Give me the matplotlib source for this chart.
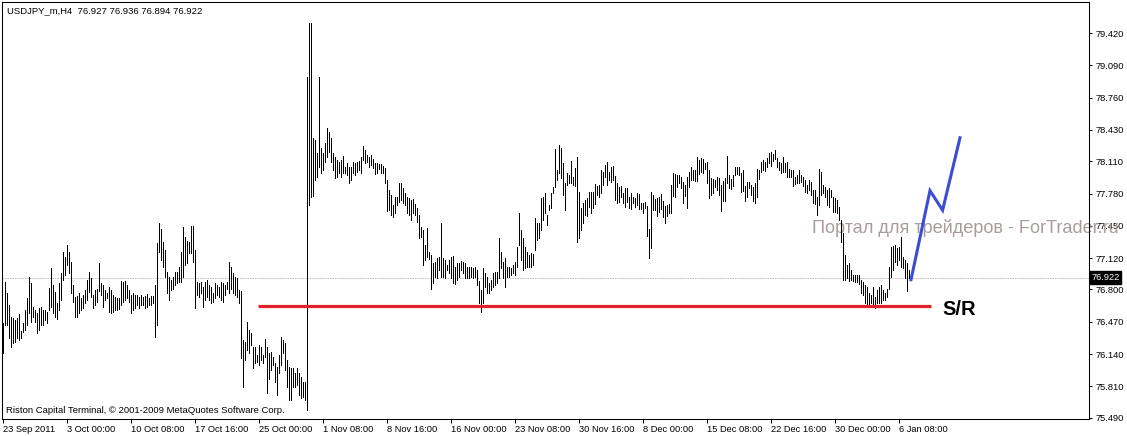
import numpy as np
import matplotlib
matplotlib.use("Agg")
import matplotlib.pyplot as plt
from matplotlib.transforms import blended_transform_factory

# ---------------- data (USDJPY_m, H4) ----------------
highs = [
    76.46, 76.88, 76.76, 76.64, 76.52, 76.51, 76.49, 76.51, 76.55, 76.38,
    76.46, 76.59, 76.71, 76.93, 76.87, 76.62, 76.59, 76.56, 76.61, 76.62,
    76.59, 76.59, 76.57, 76.82, 77.02, 76.85, 76.77, 76.66, 76.87, 76.97,
    77.18, 77.13, 77.25, 77.18, 77.08, 76.85, 76.72, 76.73, 76.76, 76.71,
    76.74, 76.79, 76.90, 76.98, 76.92, 76.74, 76.79, 76.81, 77.07, 76.87,
    76.85, 76.79, 76.76, 76.83, 76.79, 76.74, 76.72, 76.71, 76.71, 76.89,
    76.88, 76.89, 76.85, 76.79, 76.74, 76.76, 76.74, 76.74, 76.72, 76.74,
    76.72, 76.73, 76.75, 76.71, 76.73, 76.73, 76.85, 77.27, 77.48, 77.42,
    77.29, 77.20, 76.98, 76.93, 76.90, 76.93, 76.98, 76.98, 77.03, 77.18,
    77.44, 77.34, 77.30, 77.29, 77.45, 77.45, 77.20, 76.88, 76.87, 76.88,
    76.83, 76.88, 76.90, 76.85, 76.83, 76.76, 76.87, 76.85, 76.83, 76.88,
    76.87, 76.85, 76.88, 77.08, 77.03, 76.97, 76.93, 76.92, 76.79, 76.78,
    76.28, 76.26, 76.47, 76.39, 76.36, 76.21, 76.21, 76.13, 76.23, 76.21,
    76.13, 76.29, 76.21, 76.15, 76.16, 76.11, 76.05, 76.01, 76.13, 76.31,
    76.28, 76.25, 76.08, 76.01, 76.00, 76.00, 75.95, 76.00, 75.95, 75.91,
    75.85, 75.85, 78.97, 79.52, 79.52, 78.35, 78.33, 78.19, 78.97, 78.25,
    78.19, 78.30, 78.45, 78.41, 78.35, 78.19, 78.15, 78.12, 78.10, 78.12,
    78.16, 78.05, 78.09, 78.05, 78.05, 78.10, 78.09, 78.10, 78.11, 78.15,
    78.27, 78.22, 78.17, 78.15, 78.17, 78.13, 78.09, 78.09, 78.08, 78.08,
    78.06, 78.04, 77.92, 77.82, 77.77, 77.66, 77.74, 77.74, 77.89, 77.89,
    77.84, 77.79, 77.74, 77.73, 77.71, 77.72, 77.67, 77.63, 77.56, 77.44,
    77.41, 77.25, 77.43, 77.18, 77.15, 77.07, 77.08, 77.12, 77.13, 77.48,
    77.12, 77.10, 77.05, 77.10, 77.13, 77.14, 77.03, 77.07, 77.07, 77.09,
    77.08, 77.07, 77.03, 77.03, 77.03, 77.02, 77.03, 77.00, 76.89, 76.79,
    77.02, 76.97, 76.93, 76.87, 76.90, 76.97, 76.98, 76.98, 77.33, 77.18,
    77.08, 77.12, 77.03, 77.03, 77.02, 77.05, 77.08, 77.23, 77.58, 77.41,
    77.33, 77.23, 77.18, 77.15, 77.17, 77.16, 77.53, 77.48, 77.48, 77.73,
    77.74, 77.79, 77.56, 77.66, 77.79, 77.85, 78.24, 78.02, 78.28, 78.25,
    78.09, 77.89, 77.99, 77.97, 78.11, 77.95, 78.04, 78.15, 77.80, 77.63,
    77.68, 77.71, 77.73, 77.80, 77.80, 77.80, 77.88, 77.86, 77.87, 78.02,
    78.00, 78.07, 78.10, 78.00, 78.05, 78.06, 77.96, 77.89, 77.85, 77.86,
    77.79, 77.84, 77.84, 77.74, 77.79, 77.75, 77.73, 77.79, 77.78, 77.68,
    77.68, 77.69, 77.65, 77.42, 77.80, 77.77, 77.72, 77.73, 77.74, 77.78,
    77.70, 77.65, 77.66, 77.67, 77.87, 77.99, 77.98, 77.97, 77.97, 77.95,
    77.90, 77.87, 77.95, 78.00, 78.05, 78.02, 78.02, 78.15, 78.12, 78.14,
    78.13, 78.09, 78.10, 78.02, 77.94, 77.93, 77.92, 77.95, 77.94, 77.87,
    77.91, 77.94, 78.16, 77.97, 77.93, 77.97, 78.05, 78.05, 78.05, 77.99,
    78.02, 77.86, 77.90, 77.90, 77.87, 77.85, 77.89, 78.03, 78.02, 78.10,
    78.12, 78.10, 78.14, 78.19, 78.20, 78.18, 78.22, 78.14, 78.10, 78.09,
    78.15, 78.09, 78.10, 78.03, 78.02, 78.02, 77.95, 77.97, 78.02, 77.97,
    77.95, 77.92, 77.87, 77.92, 77.90, 77.82, 77.82, 77.74, 78.03, 78.00,
    77.87, 77.85, 77.82, 77.84, 77.82, 77.74, 77.73, 77.71, 77.64, 77.51,
    77.38, 77.15, 77.05, 77.07, 77.00, 76.95, 76.95, 76.95, 76.95, 76.90,
    76.88, 76.85, 76.83, 76.76, 76.74, 76.83, 76.72, 76.79, 76.83, 76.85,
    76.79, 76.76, 76.81, 77.03, 77.23, 77.24, 77.25, 77.22, 77.23, 77.34,
    77.13, 77.10, 77.07, 77.00, 76.936,
]
lows = [
    76.15, 76.44, 76.44, 76.30, 76.21, 76.25, 76.26, 76.30, 76.28, 76.30,
    76.37, 76.39, 76.44, 76.56, 76.47, 76.52, 76.47, 76.36, 76.39, 76.44,
    76.44, 76.49, 76.46, 76.59, 76.62, 76.56, 76.52, 76.50, 76.59, 76.69,
    76.90, 76.95, 77.05, 76.97, 76.76, 76.67, 76.52, 76.52, 76.56, 76.59,
    76.61, 76.66, 76.69, 76.77, 76.72, 76.61, 76.64, 76.67, 76.78, 76.74,
    76.62, 76.69, 76.71, 76.57, 76.56, 76.57, 76.59, 76.59, 76.60, 76.64,
    76.67, 76.69, 76.71, 76.67, 76.56, 76.59, 76.61, 76.64, 76.61, 76.64,
    76.64, 76.61, 76.62, 76.64, 76.64, 76.66, 76.31, 76.44, 77.18, 77.10,
    77.03, 76.93, 76.76, 76.69, 76.79, 76.81, 76.85, 76.87, 76.88, 76.88,
    76.93, 77.05, 77.07, 77.17, 77.17, 77.08, 76.61, 76.74, 76.72, 76.76,
    76.62, 76.69, 76.72, 76.69, 76.66, 76.67, 76.71, 76.74, 76.72, 76.69,
    76.67, 76.74, 76.80, 76.76, 76.81, 76.76, 76.74, 76.72, 76.66, 76.10,
    75.80, 76.08, 76.18, 76.15, 76.23, 76.00, 76.05, 76.06, 76.03, 76.08,
    76.05, 76.11, 75.74, 75.89, 75.98, 76.03, 75.85, 75.72, 75.95, 76.03,
    76.15, 75.98, 75.80, 75.67, 75.67, 75.80, 75.80, 75.82, 75.72, 75.69,
    75.70, 75.67, 75.57, 77.66, 77.74, 77.76, 77.92, 77.95, 78.05, 77.99,
    78.02, 78.10, 78.15, 78.20, 78.10, 78.02, 77.94, 77.95, 77.99, 77.95,
    77.99, 77.99, 77.97, 77.89, 77.92, 77.99, 77.97, 78.00, 78.02, 77.99,
    78.12, 78.09, 78.10, 78.05, 78.07, 78.04, 77.98, 77.99, 78.03, 77.99,
    77.99, 77.89, 77.60, 77.61, 77.56, 77.54, 77.58, 77.66, 77.69, 77.71,
    77.68, 77.66, 77.58, 77.56, 77.51, 77.58, 77.56, 77.49, 77.33, 77.34,
    77.05, 77.10, 77.13, 77.11, 76.81, 76.87, 76.93, 76.92, 77.00, 76.93,
    76.93, 76.92, 77.00, 76.97, 76.92, 76.87, 76.86, 76.90, 76.93, 77.00,
    76.97, 76.92, 76.92, 76.92, 76.93, 76.92, 76.93, 76.85, 76.66, 76.57,
    76.66, 76.83, 76.76, 76.76, 76.79, 76.83, 76.85, 76.87, 76.92, 77.02,
    76.92, 76.83, 76.93, 76.93, 76.95, 76.97, 76.95, 77.03, 77.25, 77.10,
    77.00, 77.02, 77.03, 77.03, 77.03, 77.05, 77.20, 77.31, 77.33, 77.41,
    77.51, 77.58, 77.46, 77.61, 77.63, 77.79, 77.85, 77.92, 77.99, 77.94,
    77.77, 77.61, 77.87, 77.89, 77.89, 77.87, 77.86, 77.29, 77.33, 77.41,
    77.48, 77.56, 77.55, 77.64, 77.58, 77.63, 77.67, 77.77, 77.75, 77.79,
    77.87, 77.95, 77.87, 77.92, 77.90, 77.92, 77.71, 77.68, 77.69, 77.75,
    77.68, 77.64, 77.69, 77.63, 77.62, 77.68, 77.64, 77.66, 77.62, 77.62,
    77.58, 77.63, 77.35, 77.12, 77.22, 77.61, 77.61, 77.55, 77.59, 77.62,
    77.54, 77.48, 77.55, 77.58, 77.58, 77.76, 77.74, 77.85, 77.89, 77.84,
    77.68, 77.76, 77.63, 77.85, 77.92, 77.92, 77.91, 77.91, 77.98, 78.00,
    77.99, 78.03, 77.89, 77.73, 77.77, 77.79, 77.85, 77.82, 77.77, 77.60,
    77.70, 77.70, 77.89, 77.84, 77.83, 77.86, 77.97, 77.98, 77.97, 77.80,
    77.81, 77.70, 77.75, 77.84, 77.77, 77.70, 77.68, 77.75, 77.93, 78.00,
    78.02, 78.01, 78.05, 78.09, 78.06, 78.11, 78.13, 78.05, 78.02, 77.99,
    78.00, 78.00, 77.95, 77.95, 77.95, 77.86, 77.88, 77.89, 77.89, 77.90,
    77.86, 77.80, 77.79, 77.82, 77.77, 77.68, 77.67, 77.56, 77.66, 77.77,
    77.79, 77.75, 77.66, 77.64, 77.75, 77.59, 77.59, 77.58, 77.51, 77.29,
    76.90, 76.90, 76.92, 76.89, 76.90, 76.89, 76.88, 76.88, 76.86, 76.76,
    76.74, 76.66, 76.64, 76.62, 76.66, 76.62, 76.61, 76.66, 76.66, 76.66,
    76.69, 76.69, 76.72, 76.80, 76.93, 77.00, 77.08, 77.05, 77.10, 77.03,
    77.02, 76.92, 76.78, 76.92, 76.894,
]
assert len(highs) == len(lows)

date_labels = ["23 Sep 2011", "3 Oct 00:00", "10 Oct 08:00", "17 Oct 16:00",
               "25 Oct 00:00", "1 Nov 08:00", "8 Nov 16:00", "16 Nov 00:00",
               "23 Nov 08:00", "30 Nov 16:00", "8 Dec 00:00", "15 Dec 08:00",
               "22 Dec 16:00", "30 Dec 00:00", "6 Jan 08:00"]
date_label_bars = [0, 32, 64, 96, 128, 160, 192, 224, 256, 288, 320, 352, 384, 416, 448]

price_ticks = [79.420, 79.090, 78.760, 78.430, 78.110, 77.780, 77.450,
               77.120, 76.800, 76.470, 76.140, 75.810, 75.490]

bid_price = 76.922
title_text = "USDJPY_m,H4  76.927 76.936 76.894 76.922"

sr_level = 76.63
sr_start_bar, sr_end_bar = 127.5, 464.0

forecast_bars = [454, 463.5, 469.8, 478.5]
forecast_prices = [76.90, 77.81, 77.61, 78.35]

# ---------------- figure ----------------
W, H = 1127, 436
fig = plt.figure(figsize=(W / 100, H / 100), dpi=100)
fig.patch.set_facecolor("white")
ax = fig.add_axes([2 / W, 17 / H, 1087 / W, 417 / H])
ax.set_facecolor("white")

FONT = "Liberation Sans"
FS = 6.7

bars = np.arange(len(highs))
ax.set_xlim(-0.5, 543.0)
ax.set_ylim(75.477, 79.737)

# current bid line
ax.axhline(bid_price, color="#C4BCC4", lw=0.72, ls=(0, (1.5, 1)), zorder=1)

# OHLC bars (only vertical ranges are visible at this zoom)
ax.vlines(bars, lows, highs, colors="black", linewidth=0.55,
          antialiased=False, zorder=3)

# S/R line
ax.hlines(sr_level, sr_start_bar, sr_end_bar, colors="#E3232B", lw=2.3, zorder=4)
ax.text(469.8, 76.60, "S/R", fontsize=14.5, fontweight="bold",
        family=FONT, color="black", ha="left", va="center", zorder=5)

# forecast line
ax.plot(forecast_bars, forecast_prices, color="#3B4ED3", lw=2.2,
        solid_joinstyle="miter", zorder=5)

# watermark
ax.text(404.3, 77.374, "Портал для трейдеров - ForTrader.ru", fontsize=13.1,
        family=FONT, color="#AA9C9C", ha="left", va="baseline", zorder=2,
        clip_on=False)

# axes styling
for s in ax.spines.values():
    s.set_color("black")
    s.set_linewidth(0.75)

ax.yaxis.tick_right()
ax.set_yticks(price_ticks)
ax.set_yticklabels([f"{p:.3f}" for p in price_ticks], family=FONT, fontsize=FS)
ax.tick_params(axis="y", direction="out", length=2.5, width=0.72, pad=2,
               colors="black", left=False)

ax.set_xticks(date_label_bars)
ax.set_xticklabels(date_labels, family=FONT, fontsize=FS, ha="left")
ax.tick_params(axis="x", direction="out", length=3, width=0.72, pad=1,
               colors="black", top=False)

# bid price box on the price scale
trans = blended_transform_factory(ax.transAxes, ax.transData)
ax.text(1.0022, bid_price, f"{bid_price:.3f}", transform=trans, fontsize=FS,
        family=FONT, color="white", ha="left", va="center", clip_on=False,
        bbox=dict(boxstyle="square,pad=0.18", fc="black", ec="black"), zorder=6)

# header and copyright
fig.text(7 / W, 1 - 10.5 / H, title_text, family=FONT, fontsize=6.8,
         color="black", ha="left", va="center")
fig.text(6 / W, 1 - 410.5 / H,
         "Riston Capital Terminal, © 2001-2009 MetaQuotes Software Corp.",
         family=FONT, fontsize=6.8, color="black", ha="left", va="center")

fig.savefig("out.png", dpi=100, facecolor="white")
